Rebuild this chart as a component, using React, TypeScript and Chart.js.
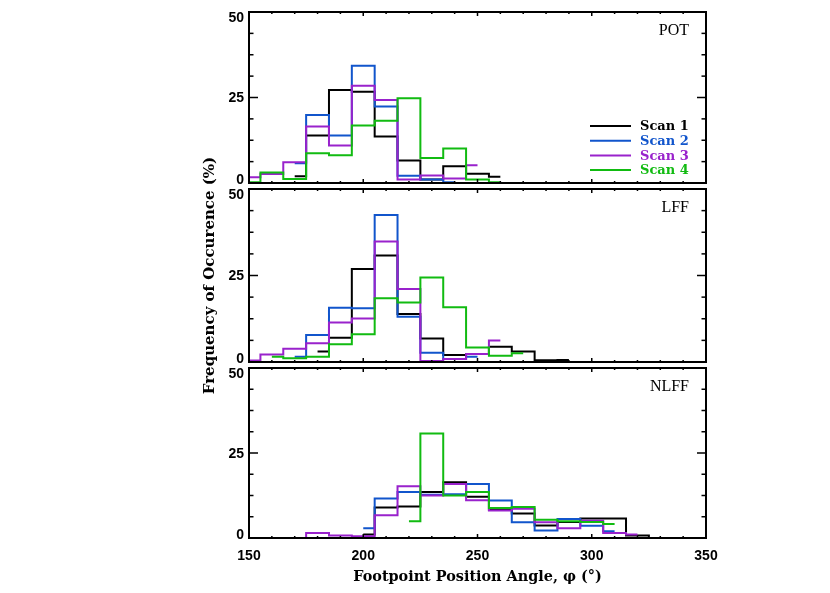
import React, { useEffect, useRef } from "react";
import { Chart, registerables } from "chart.js";

Chart.register(...registerables);

// ---------- data ----------
const CENTERS = [150, 160, 170, 180, 190, 200, 210, 220, 230, 240, 250, 260, 270, 280, 290, 300, 310, 320, 330, 340];
const SERIES_NAMES = ["Scan 1", "Scan 2", "Scan 3", "Scan 4"];
const COLORS = ["#000000", "#1155cc", "#9922cc", "#11bb11"];
const PANEL_NAMES = ["POT", "LFF", "NLFF"];
const X_TICKS = [150, 200, 250, 300, 350];
const Y_TICKS = [0, 25, 50];
const X_TITLE = "Footpoint Position Angle, \u03c6 (\u00b0)";
const Y_TITLE = "Frequency of Occurence (%)";

const n = null;
// POT panel
const POT_SCAN1 = [n, n, 2.0, 13.9, 27.2, 26.7, 13.6, 6.6, 1.0, 4.9, 2.7, 1.8, n, n, n, n, n, n, n, n];
const POT_SCAN2 = [n, n, 5.8, 19.9, 13.9, 34.3, 22.4, 2.1, 1.0, 0.2, n, n, n, n, n, n, n, n, n, n];
const POT_SCAN3 = [1.7, 2.6, 6.1, 16.5, 11.0, 28.4, 24.3, 1.0, 2.2, 1.3, 5.2, n, n, n, n, n, n, n, n, n];
const POT_SCAN4 = [0.2, 3.1, 1.2, 8.7, 8.1, 16.8, 18.2, 24.8, 7.3, 10.1, 1.0, 0.2, n, n, n, n, n, n, n, n];
// LFF panel
const LFF_SCAN1 = [n, n, n, 3.0, 7.0, 26.9, 30.8, 13.9, 6.8, 2.0, 2.3, 4.4, 3.0, 0.5, 0.6, n, n, n, n, n];
const LFF_SCAN2 = [n, n, 1.5, 7.8, 15.7, 15.5, 42.5, 13.1, 2.7, 0.9, 1.5, n, n, n, n, n, n, n, n, n];
const LFF_SCAN3 = [0.4, 2.2, 3.8, 5.4, 11.4, 12.6, 34.8, 21.1, 0.3, 0.9, 2.3, 6.2, n, n, n, n, n, n, n, n];
const LFF_SCAN4 = [n, 1.5, 1.1, 1.5, 5.1, 8.0, 18.4, 17.2, 24.4, 15.8, 4.2, 1.8, 2.5, n, n, n, n, n, n, n];
// NLFF panel
const NLFF_SCAN1 = [n, n, n, n, n, 1.0, 9.0, 9.3, 13.5, 16.4, 12.1, 8.3, 7.2, 3.7, 4.7, 5.7, 5.7, 0.7, 0.0, 0.0];
const NLFF_SCAN2 = [n, n, n, n, n, 2.9, 11.6, 13.5, 12.7, 12.9, 15.9, 11.0, 4.6, 2.2, 5.6, 3.6, 2.0, n, n, n];
const NLFF_SCAN3 = [n, n, 0.0, 1.5, 0.7, 0.5, 6.7, 15.2, 12.5, 15.9, 11.1, 8.1, 8.6, 4.6, 2.9, 5.1, 1.5, 1.0, n, n];
const NLFF_SCAN4 = [n, n, n, n, n, n, n, 4.9, 30.7, 12.5, 13.5, 8.8, 9.1, 5.4, 4.9, 4.7, 4.1, n, n, n];

const PANELS = [
  [POT_SCAN1, POT_SCAN2, POT_SCAN3, POT_SCAN4],
  [LFF_SCAN1, LFF_SCAN2, LFF_SCAN3, LFF_SCAN4],
  [NLFF_SCAN1, NLFF_SCAN2, NLFF_SCAN3, NLFF_SCAN4],
];

// ---------- layout (pixels) ----------
const W = 830;
const PLOT_LEFT = 249;
const PLOT_RIGHT = 706;
const CANVASES = [
  { top: 0, height: 200, plotTop: 12, plotBottom: 183 },
  { top: 130, height: 280, plotTop: 189, plotBottom: 362 },
  { top: 360, height: 233, plotTop: 368, plotBottom: 538 },
];

const TICK_FONT = 'bold 14px "Liberation Sans", Arial, sans-serif';
const TITLE_FAMILY = '"DejaVu Serif", serif';

const framePlugin = {
  id: "frame",
  afterDatasetsDraw(chart: any, _args: any, opts: any) {
    const { ctx, chartArea: a, scales } = chart;
    const xs = scales.x;
    const ys = scales.y;
    ctx.save();
    ctx.strokeStyle = "#000";
    ctx.lineWidth = 2;
    ctx.strokeRect(a.left, a.top, a.right - a.left, a.bottom - a.top);
    ctx.lineWidth = 1.5;
    const seg = (x1: number, y1: number, x2: number, y2: number) => {
      ctx.beginPath();
      ctx.moveTo(x1, y1);
      ctx.lineTo(x2, y2);
      ctx.stroke();
    };
    // x ticks: major 50, minor 10
    for (let v = xs.min; v <= xs.max + 0.001; v += 10) {
      const px = xs.getPixelForValue(v);
      const major = Math.abs((v - xs.min) % 50) < 0.001;
      const len = major ? 4 : 2;
      seg(px, a.top, px, a.top + len);
      seg(px, a.bottom, px, a.bottom - len);
    }
    // y ticks: major 25, minor 6.25
    for (let v = ys.min; v <= ys.max + 0.001; v += 6.25) {
      const py = ys.getPixelForValue(v);
      const major = Math.abs((v - ys.min) % 25) < 0.001;
      const len = major ? 9 : 4.5;
      seg(a.left, py, a.left + len, py);
      seg(a.right, py, a.right - len, py);
    }
    // y tick labels
    ctx.fillStyle = "#000";
    ctx.font = TICK_FONT;
    ctx.textAlign = "right";
    ctx.textBaseline = "middle";
    Y_TICKS.forEach((v) => {
      let py = ys.getPixelForValue(v);
      if (v === ys.max) py += 5;
      if (v === ys.min) py -= 4;
      ctx.fillText(String(v), a.left - 5, py + 1);
    });
    // panel label
    ctx.font = '16px "Liberation Serif", serif';
    ctx.textAlign = "right";
    ctx.fillText(opts.label, a.right - 17, a.top + 19);
    // legend
    if (opts.legend) {
      const ds = chart.data.datasets;
      ctx.font = `bold 13px ${TITLE_FAMILY}`;
      ctx.textAlign = "left";
      ds.forEach((d: any, i: number) => {
        const y0 = a.top + 114 + i * 14.7;
        ctx.strokeStyle = d.borderColor;
        ctx.lineWidth = 2;
        seg(590, y0, 631, y0);
        ctx.fillStyle = d.borderColor;
        ctx.fillText(d.label, 640, y0 + 1);
      });
    }
    ctx.restore();
  },
};

function buildConfig(p: number): any {
  const geo = CANVASES[p];
  const isMid = p === 1;
  const isBottom = p === 2;
  const datasets = SERIES_NAMES.map((name, i) => ({
    label: name,
    data: CENTERS.map((c, j) => ({ x: c, y: PANELS[p][i][j] })),
    borderColor: COLORS[i],
    backgroundColor: COLORS[i],
    borderWidth: 2,
    pointRadius: 0,
    stepped: "middle",
    fill: false,
    spanGaps: false,
    borderJoinStyle: "miter",
    order: 4 - i,
  }));
  return {
    type: "line",
    data: { datasets },
    plugins: [framePlugin],
    options: {
      animation: false,
      responsive: false,
      devicePixelRatio: 1,
      layout: {
        padding: {
          top: geo.plotTop - geo.top,
          bottom: 0,
          left: 0,
          right: W - PLOT_RIGHT,
        },
      },
      plugins: {
        legend: { display: false },
        tooltip: { enabled: false },
        frame: { label: PANEL_NAMES[p], legend: p === 0 },
      },
      scales: {
        x: {
          type: "linear",
          min: X_TICKS[0],
          max: X_TICKS[X_TICKS.length - 1],
          display: isBottom,
          grid: { display: false },
          border: { display: false },
          ticks: {
            stepSize: 50,
            autoSkip: false,
            maxRotation: 0,
            padding: 2,
            color: "#000",
            font: { family: '"Liberation Sans", Arial, sans-serif', size: 14, weight: "bold" },
          },
          title: {
            display: true,
            text: X_TITLE,
            color: "#000",
            font: { family: TITLE_FAMILY, size: 14.4, weight: "bold" },
            padding: { top: 0, bottom: 7 },
          },
          afterFit: (s: any) => {
            s.height = geo.top + geo.height - geo.plotBottom;
          },
        },
        y: {
          type: "linear",
          min: Y_TICKS[0],
          max: Y_TICKS[Y_TICKS.length - 1],
          display: isMid,
          grid: { display: false },
          border: { display: false },
          ticks: { display: false, stepSize: 25 },
          title: {
            display: true,
            text: Y_TITLE,
            color: "#000",
            font: { family: TITLE_FAMILY, size: 15, weight: "bold" },
            padding: { top: 201, bottom: 0 },
          },
          afterFit: (s: any) => {
            s.width = PLOT_LEFT;
          },
        },
      },
    },
  };
}

function Panel({ p }: { p: number }) {
  const ref = useRef<HTMLCanvasElement | null>(null);
  useEffect(() => {
    if (!ref.current) return;
    const chart = new Chart(ref.current, buildConfig(p));
    return () => chart.destroy();
  }, [p]);
  const geo = CANVASES[p];
  return (
    <canvas
      ref={ref}
      width={W}
      height={geo.height}
      style={{ position: "absolute", left: 0, top: geo.top, width: W, height: geo.height }}
    />
  );
}

export default function App() {
  return (
    <div style={{ position: "absolute", left: 0, top: 0, width: 830, height: 593, background: "#fff" }}>
      {PANEL_NAMES.map((_, p) => (
        <Panel key={p} p={p} />
      ))}
    </div>
  );
}
